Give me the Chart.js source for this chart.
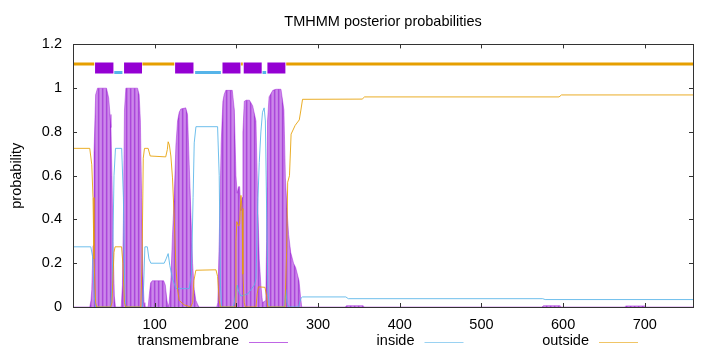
<!DOCTYPE html>
<html><head><meta charset="utf-8">
<script src="https://cdn.jsdelivr.net/npm/chart.js@4/dist/chart.umd.min.js"></script>
<style>html,body{margin:0;padding:0;background:#fff}canvas{display:block}</style>
</head><body>
<canvas id="c" width="720" height="352"></canvas>
<script>
const chartTitle = 'TMHMM posterior probabilities';
const yTitle = 'probability';
const xMin = 0, xMax = 759;
const xTicks = [100, 200, 300, 400, 500, 600, 700];
const yTicks = [0, 0.2, 0.4, 0.6, 0.8, 1, 1.2];
const seriesNames = ['transmembrane', 'inside', 'outside'];

const tmCurve = [[0,0],[20.5,0],[22,0.03],[23,0.08],[24.5,0.28],[25.7,0.7],[27.7,0.97],[30,1],[41,1],[43.7,0.955],[45.3,0.88],[46.5,0.82],[47.7,0.6],[49,0.3],[50.6,0.05],[52,0],[59,0],[60.5,0.1],[61.7,0.4],[63,0.9],[64.7,1],[79,1],[81,0.97],[82.5,0.85],[84,0.5],[85.5,0.15],[87,0.02],[88,0],[92,0],[93.5,0.06],[95,0.11],[97,0.12],[111,0.12],[113,0.1],[115,0.03],[116.5,0],[117.7,0.02],[119.8,0.12],[121.8,0.33],[123.9,0.5],[126,0.74],[128,0.85],[130,0.89],[132,0.905],[138,0.91],[140.2,0.88],[142.3,0.65],[144.3,0.43],[146.4,0.2],[148.4,0.08],[150.4,0.03],[154,0],[176,0],[177.3,0.02],[179,0.3],[181.4,0.75],[183.5,0.94],[185,0.97],[187,0.99],[195,0.99],[197.5,0.9],[199.5,0.6],[201,0.52],[202.7,0.55],[204,0.55],[205.6,0.44],[207,0.5],[208,0.8],[209.7,0.94],[212,0.945],[216,0.945],[219.9,0.92],[224,0.85],[226,0.5],[228,0.22],[230,0.1],[232,0.02],[236,0.03],[237,0.3],[238.2,0.85],[240,0.96],[244.6,0.99],[248.5,0.995],[254.6,0.995],[258.2,0.9],[260,0.59],[262.4,0.42],[264,0.33],[266.5,0.25],[270,0.2],[272.6,0.18],[276.7,0.12],[278.5,0.05],[280,0],[333,0],[335,0.006],[355,0.006],[357,0],[574,0],[576,0.006],[596,0.006],[598,0],[675,0],[677,0.005],[700,0.005],[702,0],[759,0]];

const insideCurve = [[0,0.275],[21.8,0.275],[24,0.23],[26,0.05],[27.7,0],[46,0],[48,0.1],[50.2,0.6],[52,0.725],[59.6,0.725],[61.7,0.5],[63.5,0.05],[64.5,0],[85,0],[86.5,0.1],[88,0.275],[91,0.275],[93,0.22],[95.3,0.2],[111.6,0.2],[114,0.22],[116.5,0.244],[118.5,0.19],[121.8,0.13],[126,0.084],[142.3,0.084],[145,0.15],[147,0.5],[148.4,0.75],[150.5,0.824],[177,0.824],[179,0.6],[180.5,0.1],[182,0],[196,0],[197.5,0.02],[200,0.08],[201,0.1],[203,0.07],[205.6,0.05],[214,0.06],[222,0.1],[224,0.13],[226,0.45],[228,0.66],[230,0.8],[232,0.89],[234,0.91],[235.5,0.85],[237.2,0.4],[238.5,0.1],[240,0],[258.5,0],[260.5,0.08],[262,0.02],[264,0],[276,0],[279,0.04],[281,0.046],[334,0.046],[337,0.038],[575,0.038],[578,0.034],[759,0.034]];

const outsideCurve = [[0,0.725],[20.5,0.725],[23,0.65],[24.5,0.5],[25.7,0.22],[27.7,0.02],[29,0],[46,0],[47.7,0.02],[50.2,0.25],[51.5,0.275],[59.5,0.275],[61,0.2],[63,0.02],[64.5,0],[83,0],[84.5,0.2],[86,0.68],[87.5,0.725],[92,0.725],[94.5,0.69],[113.5,0.686],[115.5,0.72],[116.5,0.755],[118,0.74],[119.8,0.69],[121.8,0.59],[123.9,0.41],[126,0.18],[128,0.08],[130,0.03],[136,0.01],[144,0],[146.5,0.02],[148,0.12],[150.4,0.168],[175,0.17],[177,0.14],[179,0.03],[180.5,0],[198.5,0],[199.5,0.3],[200.5,0.39],[202.7,0.37],[204,0.38],[205.6,0.51],[207,0.45],[208,0.15],[209.6,0.02],[211,0],[224,0],[225.5,0.06],[227,0.092],[235,0.09],[237,0.05],[238.5,0],[259.5,0],[261.5,0.25],[262.8,0.57],[265,0.6],[267,0.79],[272,0.83],[277,0.855],[279,0.9],[281,0.949],[354,0.95],[357,0.96],[595,0.96],[598,0.969],[759,0.969]];

// predicted topology track (residue ranges)
const tmRegions = [[27,49.5],[62.5,84.5],[125,147.5],[183,205],[209,231],[238,260]];
const insideRegions = [[50.5,60.5],[149.5,181],[232,236.5]];
const outsideRegions = [[0,26],[85,124],[205.8,207.8],[261,759]];
const trackLevels = [1.092, 1.072, 1.111]; // tm, inside, outside

const colTM = '#9400D3', colIn = '#56B4E9', colOut = '#E69F00';
const FONT = {family: "'Liberation Sans', Arial, sans-serif", size: 14.5};

function toPts(arr){ return arr.map(([x,y]) => ({x, y})); }
function segs(regions, level){
  const pts = [];
  regions.forEach(([a,b]) => { pts.push({x:a,y:level},{x:b,y:level},{x:b,y:null}); });
  return pts;
}

// striped purple fill (impulse look)
const pc = document.createElement('canvas');
pc.width = 4; pc.height = 1;
const pctx = pc.getContext('2d');
['#cc88ea','#c680e8','#ab48da','#bf6ce4'].forEach((c,i)=>{ pctx.fillStyle = c; pctx.fillRect(i,0,1,1); });
const ctx0 = document.getElementById('c').getContext('2d');
const tmPattern = ctx0.createPattern(pc, 'repeat');

const framePlugin = {
  id: 'frame',
  afterDatasetsDraw(chart){
    const {ctx, chartArea: a, scales: {x, y}} = chart;
    ctx.save();
    ctx.strokeStyle = '#333';
    ctx.lineWidth = 1;
    ctx.beginPath();
    xTicks.forEach(v => {
      const px = Math.round(x.getPixelForValue(v)) + 0.5;
      ctx.moveTo(px, a.bottom); ctx.lineTo(px, a.bottom - 4);
      ctx.moveTo(px, a.top); ctx.lineTo(px, a.top + 4);
    });
    yTicks.forEach(v => {
      const py = Math.round(y.getPixelForValue(v)) + 0.5;
      ctx.moveTo(a.left, py); ctx.lineTo(a.left + 4, py);
      ctx.moveTo(a.right, py); ctx.lineTo(a.right - 4, py);
    });
    ctx.stroke();
    ctx.strokeRect(Math.round(a.left) + 0.5, Math.round(a.top) + 0.5, Math.round(a.right - a.left), Math.round(a.bottom - a.top));
    ctx.restore();
  },
  afterDraw(chart){
    const ctx = chart.ctx;
    const cols = [colTM, colIn, colOut];
    const textRight = [239, 414.5, 589];
    ctx.save();
    ctx.font = FONT.size + 'px ' + FONT.family;
    ctx.textAlign = 'right';
    ctx.textBaseline = 'middle';
    seriesNames.forEach((n, i) => {
      ctx.fillStyle = '#000';
      ctx.fillText(n, textRight[i], 341);
      ctx.strokeStyle = cols[i];
      ctx.globalAlpha = 0.6;
      ctx.lineWidth = 1;
      ctx.beginPath();
      ctx.moveTo(textRight[i] + 10, 342.5);
      ctx.lineTo(textRight[i] + 49, 342.5);
      ctx.stroke();
      ctx.globalAlpha = 1;
    });
    ctx.restore();
  }
};

new Chart(ctx0, {
  type: 'line',
  data: {
    datasets: [
      {label: 'outside track', data: segs(outsideRegions, trackLevels[2]), borderColor: colOut, borderWidth: 3, borderCapStyle: 'butt', pointRadius: 0, fill: false, spanGaps: false, order: 0},
      {label: 'inside track', data: segs(insideRegions, trackLevels[1]), borderColor: colIn, borderWidth: 3, borderCapStyle: 'butt', pointRadius: 0, fill: false, spanGaps: false, order: 0},
      {label: 'tm track', data: segs(tmRegions, trackLevels[0]), borderColor: colTM, borderWidth: 11, borderCapStyle: 'butt', pointRadius: 0, fill: false, spanGaps: false, order: 0},
      {label: seriesNames[2], data: toPts(outsideCurve), borderColor: 'rgba(230,159,0,0.85)', borderWidth: 1, pointRadius: 0, fill: false, order: 1},
      {label: seriesNames[1], data: toPts(insideCurve), borderColor: 'rgba(86,180,233,0.85)', borderWidth: 1, pointRadius: 0, fill: false, order: 1},
      {label: seriesNames[0], data: toPts(tmCurve), borderColor: 'rgba(148,0,211,0.4)', backgroundColor: tmPattern, borderWidth: 1, pointRadius: 0, fill: 'origin', order: 2}
    ]
  },
  options: {
    responsive: false,
    animation: false,
    devicePixelRatio: 1,
    layout: {padding: {left: 0, right: 27, top: 0, bottom: 0}},
    plugins: {
      legend: {display: false},
      tooltip: {enabled: false},
      title: {display: true, text: chartTitle, fullSize: false, color: '#000', font: {family: FONT.family, size: 14.5, weight: 'normal'}, padding: {top: 13, bottom: 14}}
    },
    scales: {
      x: {
        type: 'linear', min: xMin, max: xMax,
        grid: {display: false}, border: {display: false},
        ticks: {color: '#000', font: FONT, padding: 1, maxRotation: 0, autoSkip: false, callback: v => String(v)},
        afterBuildTicks: s => { s.ticks = xTicks.map(v => ({value: v})); },
        afterFit: s => { s.height = 45; }
      },
      y: {
        type: 'linear', min: 0, max: 1.2,
        grid: {display: false}, border: {display: false},
        ticks: {color: '#000', font: FONT, padding: 3, callback: v => String(Math.round(v * 10) / 10)},
        afterBuildTicks: s => { s.ticks = yTicks.map(v => ({value: v})); },
        afterFit: s => { s.width = 73; },
        title: {display: true, text: yTitle, color: '#000', font: FONT, padding: {top: 8, bottom: 0}}
      }
    }
  },
  plugins: [framePlugin]
});
</script>
</body></html>
